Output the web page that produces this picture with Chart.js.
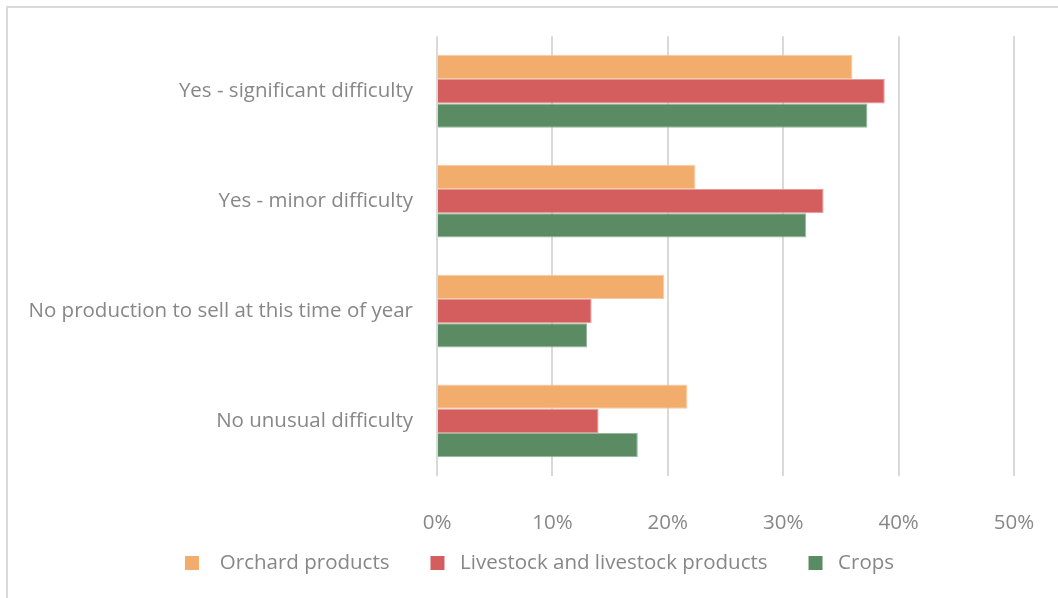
<!DOCTYPE html>
<html>
<head>
<meta charset="utf-8">
<script src="https://cdn.jsdelivr.net/npm/chart.js@4/dist/chart.umd.min.js"></script>
<style>
  html, body { margin: 0; padding: 0; background: #ffffff; overflow: hidden; width: 1058px; height: 598px; }
  #frame { position: absolute; left: 6px; top: 6px; width: 2000px; height: 2000px; border: 2px solid #dadada; }
  #c { position: absolute; left: 0; top: 0; }
</style>
</head>
<body>
<div id="frame"></div>
<canvas id="c" width="1058" height="654"></canvas>
<script>
const categories = [
  'Yes - significant difficulty',
  'Yes - minor difficulty',
  'No production to sell at this time of year',
  'No unusual difficulty'
];
const seriesNames = ['Orchard products', 'Livestock and livestock products', 'Crops'];
const orchard   = [36.0, 22.4, 19.7, 21.7];
const livestock = [38.8, 33.5, 13.4, 14.0];
const crops     = [37.3, 32.0, 13.0, 17.4];
const tickLabels = ['0%', '10%', '20%', '30%', '40%', '50%'];

const colors = ['#F2AC6C', '#D45E5E', '#5A8B62'];
const edges  = ['#F7CBA2', '#E59A9A', '#96B89C'];
const FONT = "'Open Sans', sans-serif";
const FS = 20.5;
const TXT = '#878787';
const legendLead = ['  ', ' ', ' '];

const moveLegend = {
  id: 'moveLegend',
  afterLayout(chart) {
    const lg = chart.legend;
    const h = lg.bottom - lg.top;
    lg.top = 511.75;
    lg.bottom = lg.top + h;
    lg.left = 65;
    lg.right = 1014;
  }
};

new Chart(document.getElementById('c'), {
  type: 'bar',
  data: {
    labels: categories,
    datasets: [orchard, livestock, crops].map((d, i) => ({
      label: seriesNames[i],
      data: d,
      backgroundColor: colors[i],
      borderColor: edges[i],
      borderWidth: 1,
      categoryPercentage: 0.662,
      barPercentage: 1.0
    }))
  },
  plugins: [moveLegend],
  options: {
    indexAxis: 'y',
    responsive: false,
    animation: false,
    devicePixelRatio: 1,
    layout: { padding: { left: 0, right: 44, top: 36, bottom: 12 } },
    plugins: {
      tooltip: { enabled: false },
      legend: {
        position: 'bottom',
        labels: {
          boxWidth: 14,
          boxHeight: 14,
          padding: 41,
          color: TXT,
          font: { family: FONT, size: FS },
          generateLabels: (chart) => {
            const items = Chart.defaults.plugins.legend.labels.generateLabels(chart);
            items.forEach((it, i) => { it.text = legendLead[i] + it.text; it.lineWidth = 0; });
            return items;
          }
        }
      }
    },
    scales: {
      x: {
        min: 0,
        max: 50,
        ticks: {
          stepSize: 10,
          padding: 35,
          color: TXT,
          font: { family: FONT, size: FS },
          callback: (v, i) => tickLabels[i]
        },
        grid: { color: '#d9d9d9', lineWidth: 2, drawTicks: false },
        border: { display: false },
        afterFit: (s) => { s.paddingLeft = 0; s.paddingRight = 0; }
      },
      y: {
        ticks: {
          padding: 24,
          color: TXT,
          font: { family: FONT, size: FS }
        },
        grid: { display: false, drawTicks: false },
        border: { display: false },
        afterFit: (s) => { s.width = 437; }
      }
    }
  }
});
</script>
</body>
</html>
